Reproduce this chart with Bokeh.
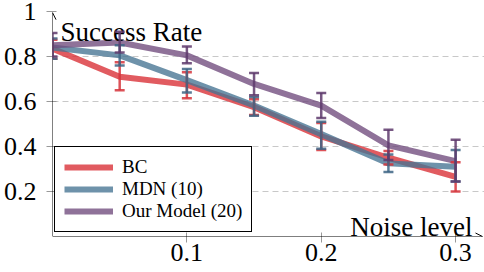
from bokeh.plotting import figure
from bokeh.models import (Range1d, FixedTicker, Whisker, TeeHead, ColumnDataSource,
                          Legend, LegendItem, Label, Arrow, OpenHead)
from bokeh.embed import file_html
from bokeh.resources import INLINE

# ---- data ----
noise = [0.0, 0.05, 0.1, 0.15, 0.2, 0.25, 0.3]

bc_mean = [0.835, 0.71, 0.675, 0.575, 0.445, 0.35, 0.265]
bc_low = [0.79, 0.65, 0.615, 0.54, 0.385, 0.32, 0.20]
bc_high = [0.875, 0.775, 0.73, 0.61, 0.505, 0.38, 0.33]

mdn_mean = [0.84, 0.805, 0.695, 0.582, 0.455, 0.325, 0.31]
mdn_low = [0.79, 0.76, 0.64, 0.537, 0.39, 0.287, 0.245]
mdn_high = [0.88, 0.85, 0.745, 0.62, 0.51, 0.365, 0.385]

our_mean = [0.85, 0.862, 0.805, 0.678, 0.582, 0.405, 0.335]
our_low = [0.80, 0.818, 0.77, 0.628, 0.527, 0.34, 0.245]
our_high = [0.905, 0.91, 0.845, 0.727, 0.638, 0.475, 0.43]

series_names = ["BC", "MDN (10)", "Our Model (20)"]
series_colors = ["#d82d33", "#457392", "#6f4a7c"]
err_colors = ["#d6343b", "#3d6585", "#5e3a6c"]

y_ticks = [0.2, 0.4, 0.6, 0.8, 1.0]
y_tick_labels = ["0.2", "0.4", "0.6", "0.8", "1"]
x_ticks = [0.1, 0.2, 0.3]
x_tick_labels = ["0.1", "0.2", "0.3"]

x_label = "Noise level"
y_label = "Success Rate"

FONT = "'Liberation Serif', serif"

p = figure(width=484, height=272, output_backend="svg", toolbar_location=None,
           x_range=Range1d(0, 0.3215), y_range=Range1d(0, 1.0),
           min_border_left=50, min_border_right=0, min_border_top=11, min_border_bottom=36)
p.outline_line_color = None
p.background_fill_color = "white"
p.border_fill_color = "white"

# axes
p.xaxis.ticker = FixedTicker(ticks=x_ticks)
p.yaxis.ticker = FixedTicker(ticks=y_ticks)
p.xaxis.major_label_overrides = {t: l for t, l in zip(x_ticks, x_tick_labels)}
p.yaxis.major_label_overrides = {t: l for t, l in zip(y_ticks, y_tick_labels)}
for ax in (p.xaxis, p.yaxis):
    ax.axis_line_color = None
    ax.major_tick_line_color = "#999999"
    ax.major_tick_out = 6
    ax.major_tick_in = 4
    ax.minor_tick_line_color = None
    ax.major_label_text_font = FONT
    ax.major_label_text_font_size = "26px"
    ax.major_label_text_color = "black"
p.xaxis.major_label_standoff = 1
p.yaxis.major_label_standoff = 10

p.xgrid.grid_line_color = None
p.ygrid.grid_line_color = "#c8c8c8"
p.ygrid.grid_line_dash = "6 4"
p.ygrid.grid_line_width = 1

# series
means = [bc_mean, mdn_mean, our_mean]
lows = [bc_low, mdn_low, our_low]
highs = [bc_high, mdn_high, our_high]
items = []
for name, col, ecol, m, lo, hi in zip(series_names, series_colors, err_colors, means, lows, highs):
    src = ColumnDataSource(dict(x=noise, y=m, lower=lo, upper=hi))
    r = p.line("x", "y", source=src, line_color=col, line_width=6, line_alpha=0.78)
    w = Whisker(base="x", lower="lower", upper="upper", source=src, dimension="height",
                line_color=ecol, line_width=2.5, line_alpha=0.85, level="overlay",
                upper_head=TeeHead(size=10, line_color=ecol, line_width=2.5, line_alpha=0.85),
                lower_head=TeeHead(size=10, line_color=ecol, line_width=2.5, line_alpha=0.85))
    p.add_layout(w)
    items.append(LegendItem(label=name, renderers=[r]))

# axis arrows
p.add_layout(Arrow(x_start=0, y_start=0, x_end=0.3200, y_end=0, line_color="black", line_width=1,
                   end=OpenHead(size=7, line_color="black", line_width=1)))
p.add_layout(Arrow(x_start=0, y_start=0, x_end=0, y_end=0.995, line_color="black", line_width=1,
                   end=OpenHead(size=7, line_color="black", line_width=1)))

# axis labels
p.add_layout(Label(x=0, y=1.0, x_offset=8, y_offset=-5, text=y_label, text_font=FONT,
                   text_font_size="27px", text_baseline="top", text_align="left", text_color="black"))
p.add_layout(Label(x=0.3215, y=0, x_offset=-12, y_offset=10, text=x_label, text_font=FONT,
                   text_font_size="27px", text_baseline="alphabetic", text_align="right", text_color="black"))

legend = Legend(items=items, location=(2, 4), margin=0, padding=9, spacing=0,
                glyph_width=49, glyph_height=20, label_height=20, label_standoff=9,
                label_text_font=FONT, label_text_font_size="19px", label_text_color="black",
                border_line_color="black", border_line_width=1, border_line_alpha=1,
                background_fill_color="white", background_fill_alpha=1)
p.add_layout(legend)

open("out.html", "w").write(file_html(p, INLINE))
